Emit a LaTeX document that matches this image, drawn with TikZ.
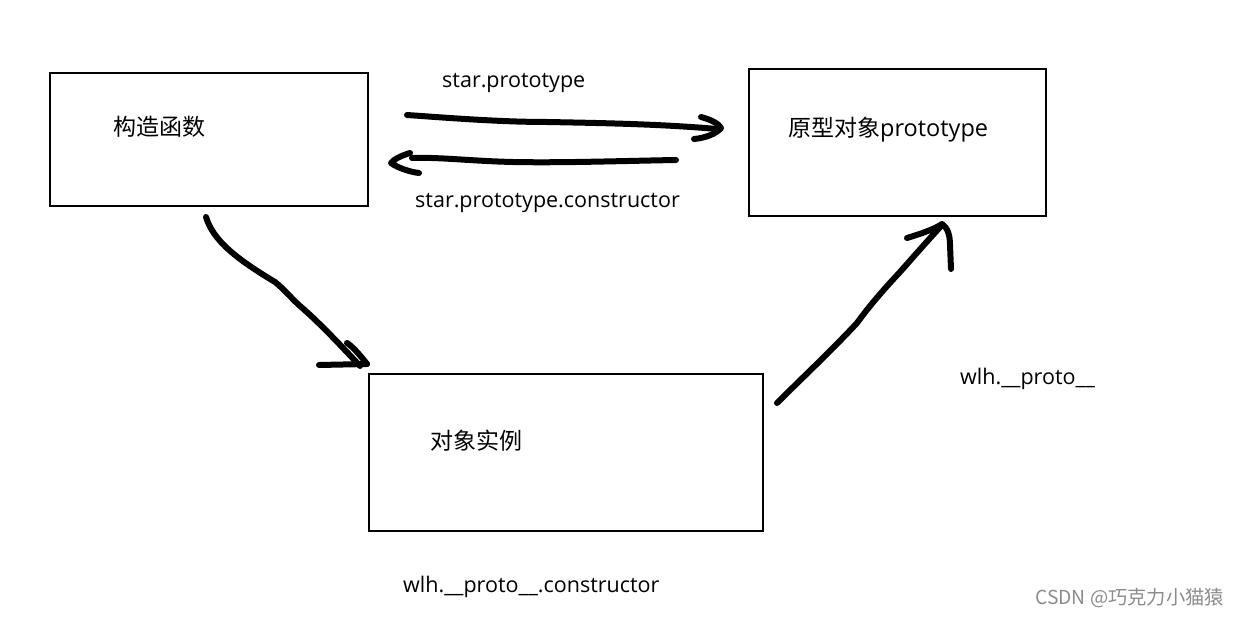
\documentclass[tikz,border=0pt]{standalone}
\usepackage{fontspec}
\setmainfont{Open Sans}
\newfontfamily\cjk{Noto Sans CJK SC}
\newcommand{\cjkbig}{\fontsize{23}{27}\selectfont\cjk}
\begin{document}
\begin{tikzpicture}[x=1pt,y=-1pt,
  box/.style={draw,line width=2pt,inner sep=0pt},
  lbl/.style={font=\fontsize{21.5}{26}\selectfont,inner sep=0pt,anchor=west},
  ink/.style={line width=6pt,line cap=round,line join=round}]
\useasboundingbox (0,0) rectangle (1241,617);
\node[box,minimum width=318pt,minimum height=133pt] (ctor) at (209,139.5) {};
\node[box,minimum width=297pt,minimum height=147pt] (proto) at (897.5,142.5) {};
\node[box,minimum width=394pt,minimum height=157pt] (inst) at (566,452.5) {};
\node[lbl] (t1) at (113,127) {\cjkbig 构造函数};
\node[lbl] (t2) at (788,130) {\cjkbig 原型对象\fontsize{23.5}{27}\rmfamily prototype};
\node[lbl] (t3) at (430,441) {\cjkbig 对象实例};
\node[lbl] (l1) at (442,83) {star.prototype};
\node[lbl] (l2) at (415,203) {star.prototype.constructor};
\node[lbl] (l3) at (960,379) {wlh.\_\_proto\_\_};
\node[lbl] (l4) at (403,587) {wlh.\_\_proto\_\_.constructor};
\node[lbl,font=\fontsize{19.3}{23}\selectfont\cjk,text=black!45] (wm) at (1035,598) {CSDN @巧克力小猫猿};
% arrow 1
\coordinate (a1s) at (407,115);
\coordinate (a1e) at (717,129);
\draw[ink] (a1s) .. controls (450,118) and (500,122) .. (547,122) .. controls (600,123) and (660,124) .. (a1e);
\draw[ink] (701,117) .. controls (712,120) and (719,124) .. (721,128) .. controls (716,134) and (705,138) .. (694,139);
% arrow 2
\coordinate (a2s) at (676,160);
\coordinate (a2e) at (412,158);
\draw[ink] (a2s) .. controls (620,161) and (560,163) .. (513,162) .. controls (470,161) and (440,157) .. (a2e);
\draw[ink] (410,153) .. controls (400,156) and (393,160) .. (391,163) .. controls (398,168) and (410,172) .. (419,173);
% arrow 3
\coordinate (a3s) at (206,217);
\coordinate (a3e) at (360,366);
\draw[ink] (a3s) .. controls (213,240) and (235,258) .. (275,282) .. controls (285,290) and (290,297) .. (300,306) .. controls (320,323) and (345,350) .. (a3e);
\draw[ink] (319,365) -- (367,364);
\draw[ink] (347,343) .. controls (352,346) and (360,355) .. (367,364);
% arrow 4
\coordinate (a4s) at (777,403);
\coordinate (a4e) at (942,225);
\draw[ink] (a4s) .. controls (800,380) and (830,352) .. (857,323) .. controls (870,305) and (885,288) .. (900,272) .. controls (915,255) and (930,238) .. (a4e);
\draw[ink] (907,238) .. controls (920,234) and (935,229) .. (942,224) .. controls (948,228) and (950,236) .. (950,245) -- (951,269);
\end{tikzpicture}
\end{document}
